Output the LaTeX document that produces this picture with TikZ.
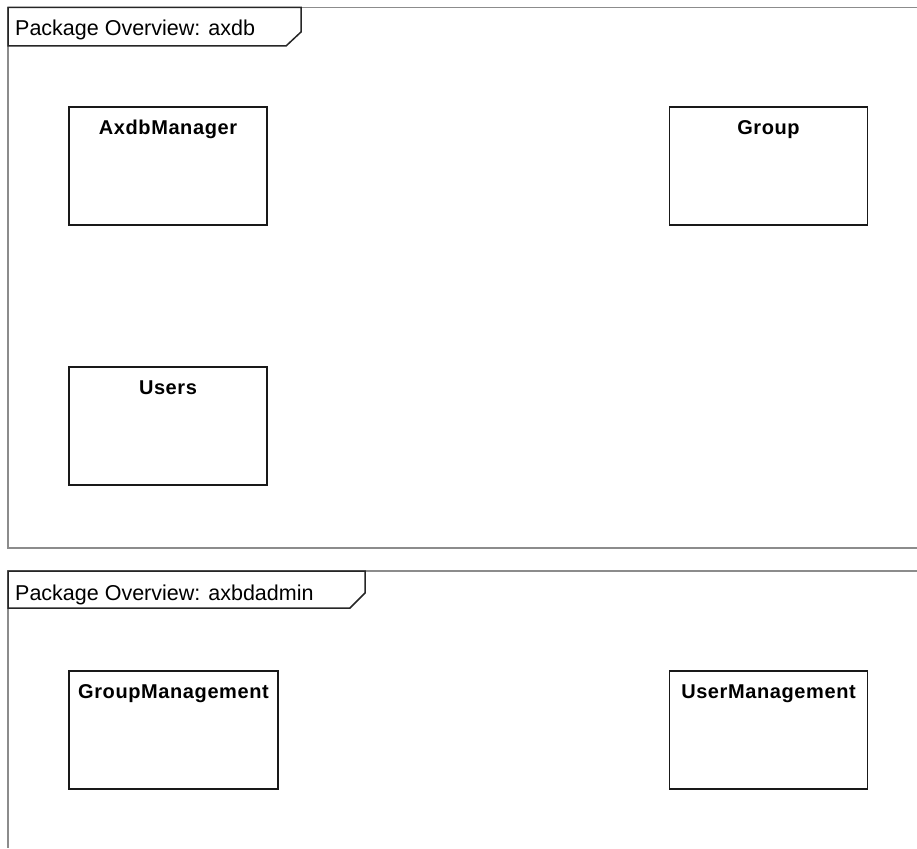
\documentclass[tikz,border=0pt]{standalone}
\usepackage{fontspec}
\setmainfont{Liberation Sans}
\newfontfamily\classfont[LetterSpace=3]{Liberation Sans}
\newfontfamily\tabfont{Liberation Sans}
\begin{document}
\begin{tikzpicture}[x=1pt,y=-1pt,
  frameline/.style={draw=black!45, line width=1.6pt},
  tabline/.style={draw=black!85, line width=1.5pt, fill=white},
  tabtext/.style={anchor=base west, inner sep=0pt, font=\tabfont\fontsize{21.5}{25}\selectfont},
  classbox/.style={draw=black!90, line width=1.7pt, fill=white, minimum height=118pt, inner sep=0pt},
  classname/.style={anchor=base, inner sep=0pt, font=\classfont\bfseries\fontsize{20}{24}\selectfont}
]
\useasboundingbox (0,0) rectangle (917,848);
\fill[white] (0,0) rectangle (917,848);

% package axdb
\draw[frameline] (917,7.5) -- (8,7.5) -- (8,548) -- (917,548);
\draw[tabline] (8,7.5) -- (301,7.5) -- (301,32) -- (286,46) -- (8,46) -- cycle;
\node[tabtext] (tab1) at (15,36) {Package Overview: axdb};

\node[classbox, minimum width=198pt] (mgr) at (168,166) {};
\path (mgr.north) ++(0,28) node[classname] (mgrname) {AxdbManager};

\node[classbox, minimum width=198pt] (grp) at (768.5,166) {};
\path (grp.north) ++(0,28) node[classname] (grpname) {Group};

\node[classbox, minimum width=198pt] (usr) at (168,426) {};
\path (usr.north) ++(0,28) node[classname] (usrname) {Users};

% package axbdadmin
\draw[frameline] (917,571) -- (8,571) -- (8,848);
\draw[tabline] (8,571) -- (365,571) -- (365,593) -- (350,608) -- (8,608) -- cycle;
\node[tabtext] (tab2) at (15,600) {Package Overview: axbdadmin};

\node[classbox, minimum width=209pt] (gmgmt) at (173.5,730) {};
\path (gmgmt.north) ++(0,28) node[classname] (gmgmtname) {GroupManagement};

\node[classbox, minimum width=198pt] (umgmt) at (768.5,730) {};
\path (umgmt.north) ++(0,28) node[classname] (umgmtname) {UserManagement};
\end{tikzpicture}
\end{document}
